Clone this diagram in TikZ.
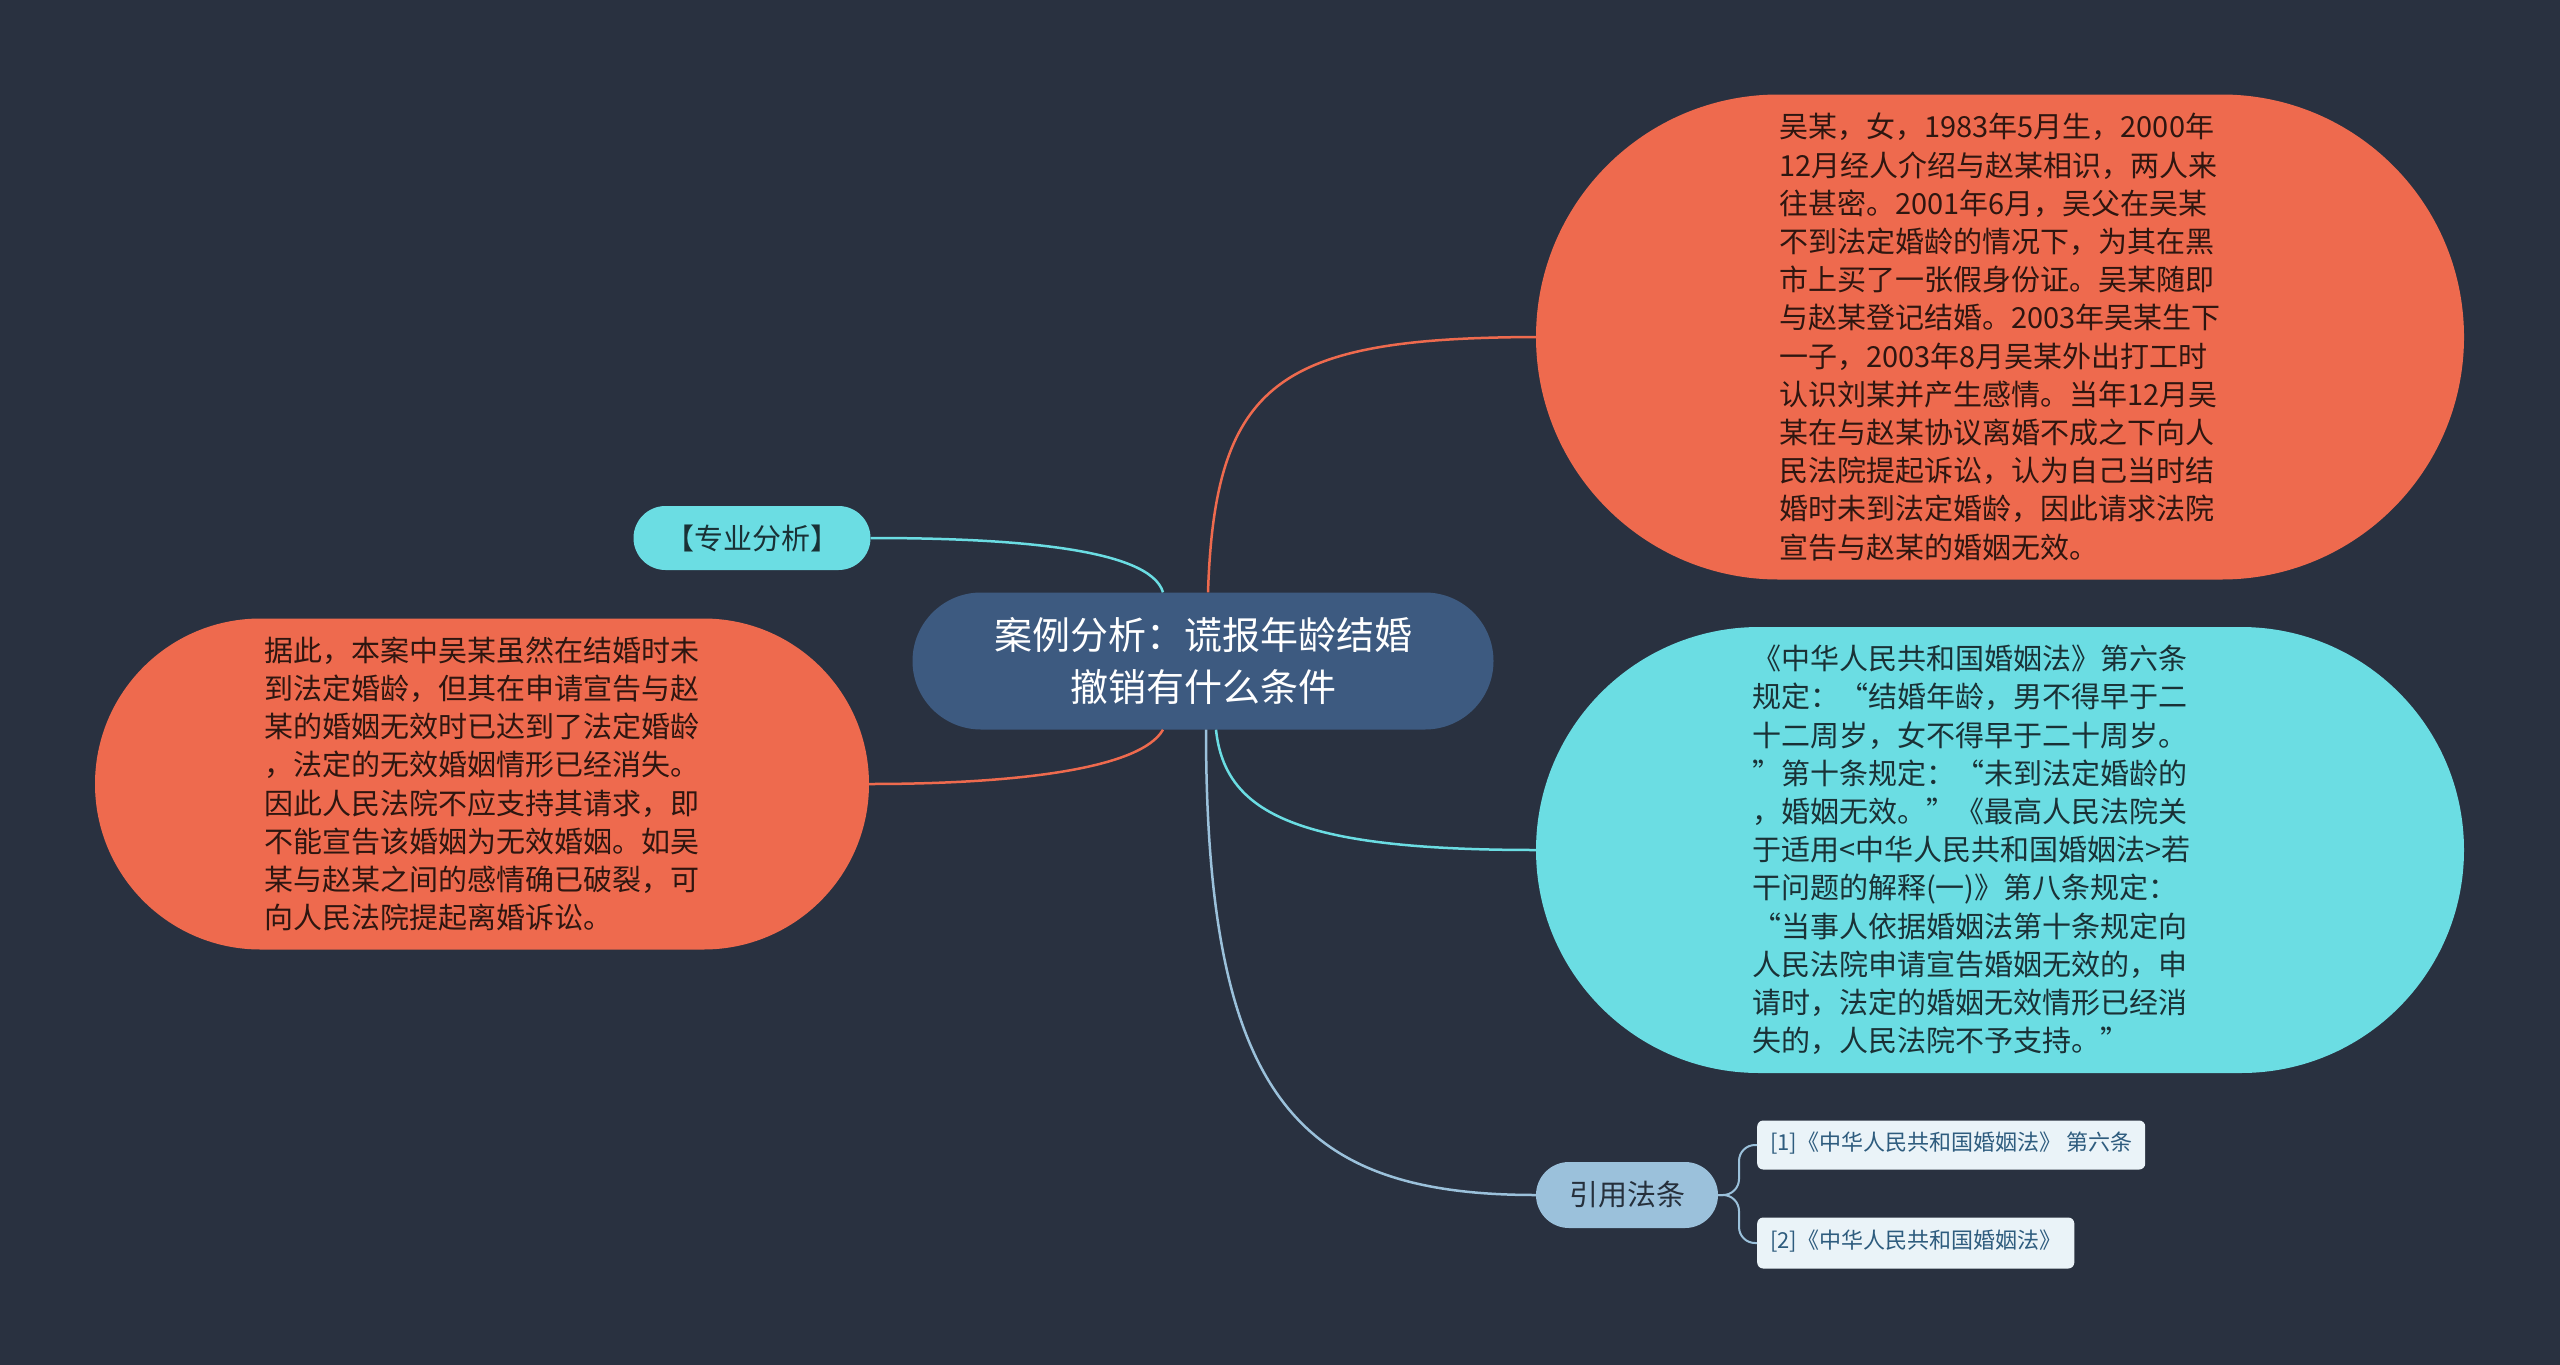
\documentclass[tikz,border=0pt]{standalone}
\usepackage{fontspec}
\setmainfont{Noto Sans CJK SC}
\usetikzlibrary{shapes.misc}
\definecolor{bg}{HTML}{293140}
\definecolor{orF}{HTML}{EE6A4E}
\definecolor{orT}{HTML}{2E1610}
\definecolor{cyF}{HTML}{6BDDE3}
\definecolor{cyT}{HTML}{1A3136}
\definecolor{ceF}{HTML}{3D5A80}
\definecolor{ltF}{HTML}{9BC1DB}
\definecolor{ltT}{HTML}{26303C}
\definecolor{rfF}{HTML}{EAF3F8}
\definecolor{rfT}{HTML}{2E5C7E}
\begin{document}
\begin{tikzpicture}[x=1pt,y=-1pt,
  every node/.style={font=\fontsize{29}{38.2}\selectfont},
  stad/.style={shape=rounded rectangle, inner sep=0pt, align=left},
  refbox/.style={draw=none, fill=rfF, text=rfT, rounded corners=6pt, inner xsep=13pt, inner ysep=0pt,
     anchor=west, font=\fontsize{22}{26}\selectfont, text height=16pt, text depth=5pt},
  conn/.style={line width=2.5pt}]
\fill[bg] (0,0) rectangle (2560,1365);
\useasboundingbox (0,0) rectangle (2560,1365);

\node[stad, fill=ceF, text=white, align=center, minimum width=581pt, minimum height=137pt,
  font=\fontsize{38}{52}\selectfont] (c) at (1203,661) {案例分析：谎报年龄结婚\\撤销有什么条件};

\node[stad, fill=orF, text=orT, minimum width=928pt, minimum height=485pt] (tr) at (2000,337) {%
吴某，女，1983年5月生，2000年\\
12月经人介绍与赵某相识，两人来\\
往甚密。2001年6月，吴父在吴某\\
不到法定婚龄的情况下，为其在黑\\
市上买了一张假身份证。吴某随即\\
与赵某登记结婚。2003年吴某生下\\
一子，2003年8月吴某外出打工时\\
认识刘某并产生感情。当年12月吴\\
某在与赵某协议离婚不成之下向人\\
民法院提起诉讼，认为自己当时结\\
婚时未到法定婚龄，因此请求法院\\
宣告与赵某的婚姻无效。};

\node[stad, fill=cyF, text=cyT, text width=496pt, minimum width=928pt, minimum height=446pt] (cr) at (2000,850) {%
《中华人民共和国婚姻法》第六条\\
规定：“结婚年龄，男不得早于二\\
十二周岁，女不得早于二十周岁。\\
”第十条规定：“未到法定婚龄的\\
，婚姻无效。”《最高人民法院关\\
于适用<中华人民共和国婚姻法>若\\
干问题的解释(一)》第八条规定：\\
“当事人依据婚姻法第十条规定向\\
人民法院申请宣告婚姻无效的，申\\
请时，法定的婚姻无效情形已经消\\
失的，人民法院不予支持。”};

\node[stad, fill=orF, text=orT, minimum width=774pt, minimum height=331pt] (lf) at (482,784) {%
据此，本案中吴某虽然在结婚时未\\
到法定婚龄，但其在申请宣告与赵\\
某的婚姻无效时已达到了法定婚龄\\
，法定的无效婚姻情形已经消失。\\
因此人民法院不应支持其请求，即\\
不能宣告该婚姻为无效婚姻。如吴\\
某与赵某之间的感情确已破裂，可\\
向人民法院提起离婚诉讼。};

\node[stad, fill=cyF, text=cyT, minimum width=237pt, minimum height=64pt] (zy) at (752,538) {【专业分析】};

\node[stad, fill=ltF, text=ltT, minimum width=182pt, minimum height=66pt] (yy) at (1627,1195) {引用法条};

\node[refbox, minimum height=49pt] (r1) at (1757,1145) {[1]《中华人民共和国婚姻法》 第六条};
\node[refbox, minimum height=51pt] (r2) at (1757,1243) {[2]《中华人民共和国婚姻法》};

% connectors
\draw[conn, orF] ([xshift=5pt]c.north) .. controls (1215,380) and (1280,338) .. (tr.west);
\draw[conn, cyF] ([xshift=13pt]c.south) .. controls (1225,815) and (1300,850) .. (cr.west);
\draw[conn, ltF] ([xshift=3pt]c.south) .. controls (1206,1100) and (1300,1195) .. (yy.west);
\draw[conn, cyF] (zy.east) .. controls (1010,538) and (1150,548) .. ([xshift=-40pt]c.north);
\draw[conn, orF] (lf.east) .. controls (1010,784) and (1140,770) .. ([xshift=-40pt]c.south);
\draw[conn, ltF, line width=2pt, rounded corners=16pt] (yy.east) -- (1739,1195) |- (r1.west);
\draw[conn, ltF, line width=2pt, rounded corners=16pt] (yy.east) -- (1739,1195) |- (r2.west);
\end{tikzpicture}
\end{document}
